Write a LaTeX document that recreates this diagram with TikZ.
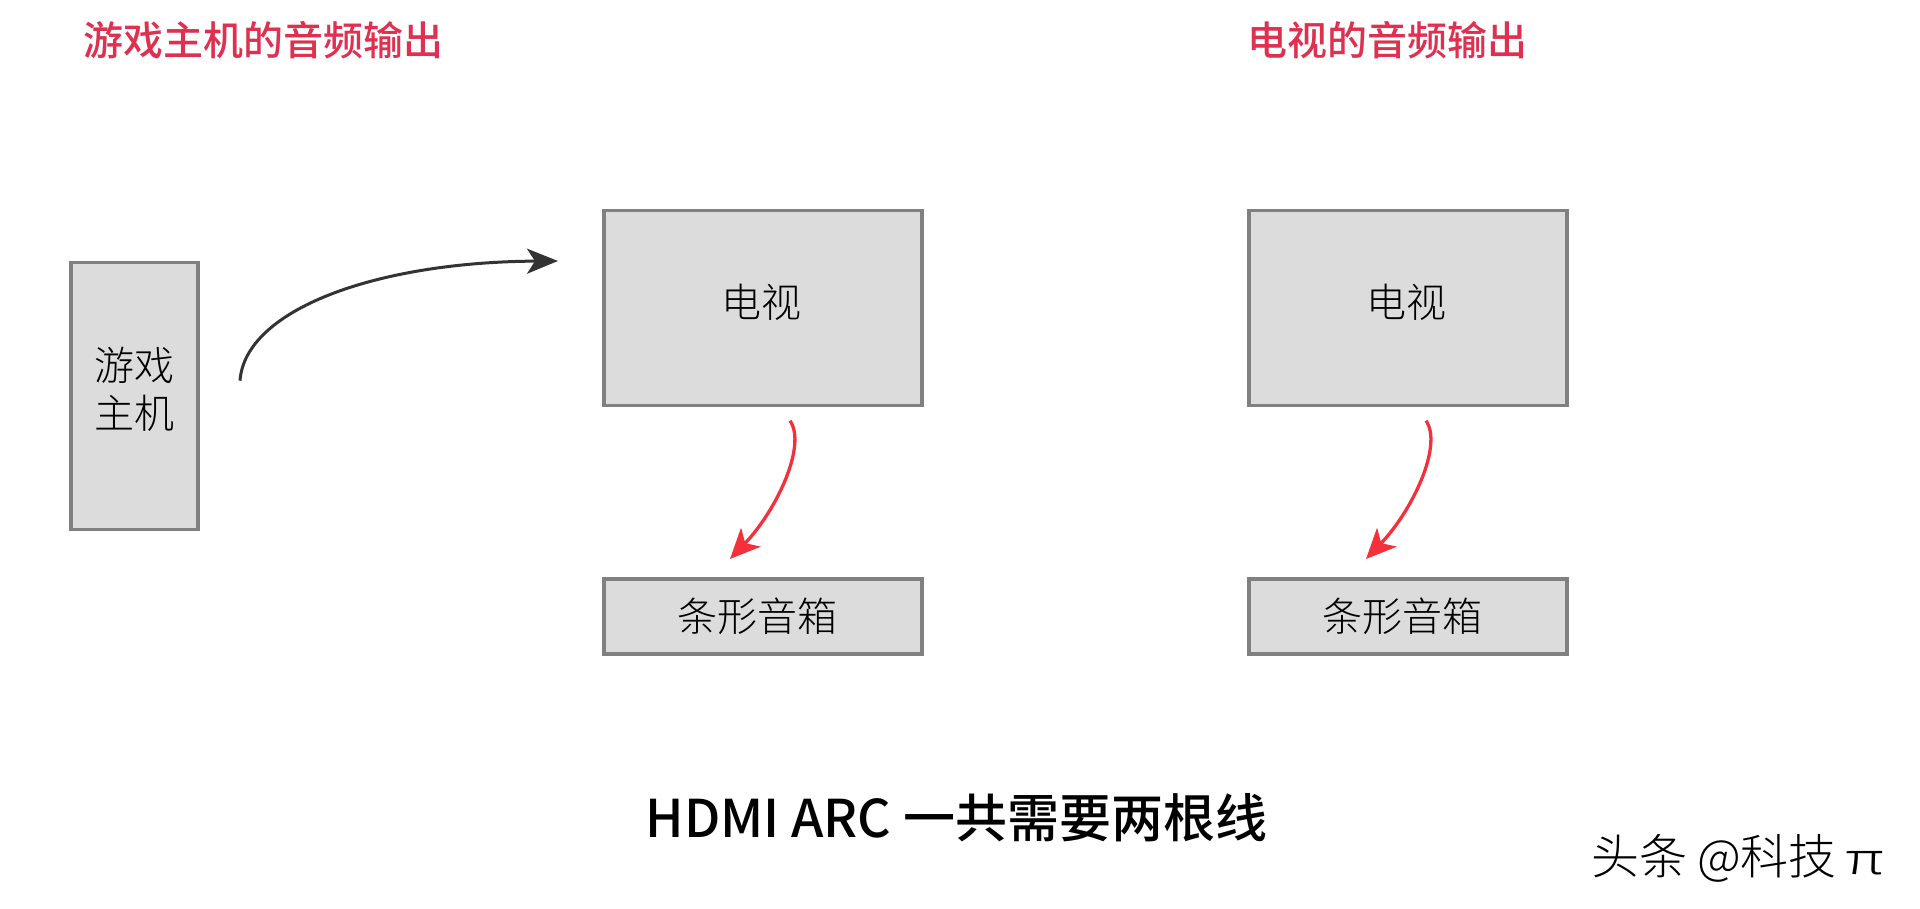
\documentclass[tikz,border=0pt]{standalone}
\usepackage{fontspec}
\setmainfont{Noto Sans CJK SC}[UprightFont=* Light,BoldFont=* Medium]
\usetikzlibrary{arrows.meta}
\definecolor{boxfill}{HTML}{DCDCDC}
\definecolor{boxline}{HTML}{808080}
\definecolor{titlered}{HTML}{E0304F}
\definecolor{arrowred}{HTML}{F5303A}
\definecolor{arrowdark}{HTML}{333333}
\tikzset{
  devbox/.style={draw=boxline,fill=boxfill,line width=3.5pt,inner sep=0pt,outer sep=0pt},
  boxtext/.style={inner sep=0pt,font=\fontsize{40}{48}\selectfont,text=black,align=center},
  headtext/.style={inner sep=0pt,anchor=west,font=\bfseries\fontsize{40}{46}\selectfont,text=titlered},
  mainconn/.style={draw=arrowdark,line width=3pt,-{Stealth[length=31pt,width=25pt,inset=8pt]}},
  redconn/.style={draw=arrowred,line width=3.3pt,-{Stealth[length=30pt,width=27pt,inset=8pt]}}
}
\begin{document}
\begin{tikzpicture}[x=1pt,y=-1pt]
\useasboundingbox (0,0) rectangle (1920,909);
\node[devbox,minimum width=127pt,minimum height=267pt] (console) at (134.5,396) {};
\node[devbox,minimum width=318pt,minimum height=195pt] (tvA) at (763,308) {};
\node[devbox,minimum width=318pt,minimum height=75pt] (barA) at (763,616.5) {};
\node[devbox,minimum width=318pt,minimum height=195pt] (tvB) at (1408,308) {};
\node[devbox,minimum width=318pt,minimum height=75pt] (barB) at (1408,616.5) {};

\node[boxtext] (consoletext) at (134,389) {游戏\\主机};
\node[boxtext] (tvAtext) at (761.5,302) {电视};
\node[boxtext] (tvBtext) at (1406.5,302) {电视};
\node[boxtext] (barAtext) at (757,616) {条形音箱};
\node[boxtext] (barBtext) at (1402,616) {条形音箱};

\node[headtext] (headA) at (83,40) {游戏主机的音频输出};
\node[headtext] (headB) at (1247,40) {电视的音频输出};
\node[inner sep=0pt,font=\bfseries\fontsize{52}{60}\selectfont] (caption) at (956.5,818) {HDMI ARC 一共需要两根线};
\node[inner sep=0pt,font=\fontsize{48}{54}\selectfont,anchor=west] (mark) at (1591,858) {头条\hspace{10pt}@科技\hspace{9pt}\scalebox{1.3}[0.9]{π}};

\coordinate (a1) at (240,380.7);
\coordinate (a2) at (558,261);
\coordinate (b1) at (790,420.7);
\coordinate (b2) at (730,559);
\coordinate (c1) at (1426,420.7);
\coordinate (c2) at (1366,559);
\draw[mainconn] (a1) .. controls (245,310) and (375,262) .. (a2);
\draw[redconn] (b1) .. controls (807,445) and (777,510) .. (b2);
\draw[redconn] (c1) .. controls (1443,445) and (1413,510) .. (c2);
\end{tikzpicture}
\end{document}
